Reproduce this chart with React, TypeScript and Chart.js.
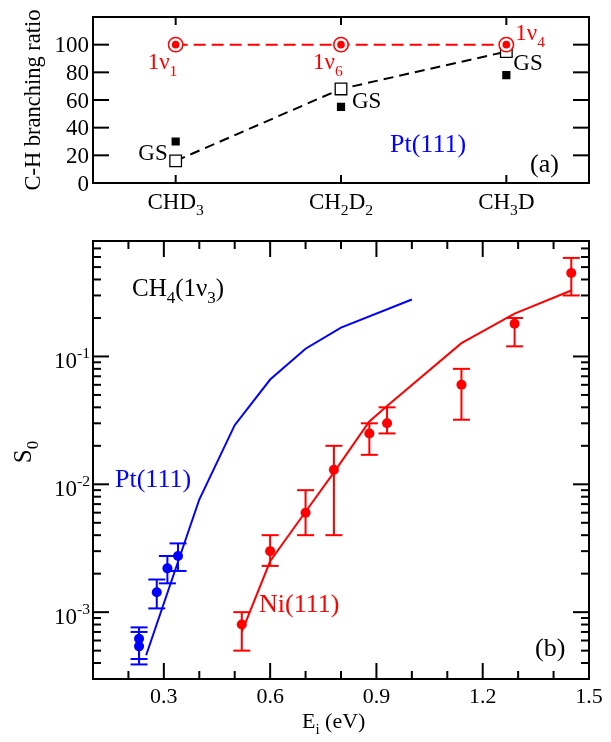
import React, { useEffect, useRef } from 'react';
import { Chart, registerables } from 'chart.js';

Chart.register(...registerables);

// ---------- Panel (a) data ----------
const topCategories = ['CHD_3', 'CH_2D_2', 'CH_3D'];
const vibExcited = [100, 100, 100];
const vibLabels = ['1ν_1', '1ν_6', '1ν_4'];
const gsTheory = [16, 68, 95];
const gsExperiment = [30, 55, 78];
const topYTicks = [0, 20, 40, 60, 80, 100, 120];

// ---------- Panel (b) data ----------
const ptExpE = [0.23, 0.23, 0.28, 0.31, 0.34];
const ptExpS = [6.2e-4, 5.4e-4, 1.43e-3, 2.2e-3, 2.75e-3];
const ptExpHi = [7.6e-4, 7.0e-4, 1.8e-3, 2.75e-3, 3.45e-3];
const ptExpLo = [4.3e-4, 3.9e-4, 1.07e-3, 1.68e-3, 2.1e-3];
const ptTheoryE = [0.25, 0.4, 0.5, 0.6, 0.7, 0.8, 1.0];
const ptTheoryS = [4.6e-4, 7.6e-3, 0.029, 0.066, 0.115, 0.168, 0.279];

const niExpE = [0.52, 0.6, 0.7, 0.78, 0.88, 0.93, 1.14, 1.29, 1.45];
const niExpS = [8.0e-4, 3.0e-3, 6.0e-3, 0.013, 0.025, 0.030, 0.060, 0.18, 0.45];
const niExpHi = [1.0e-3, 4.0e-3, 9.0e-3, 0.020, 0.030, 0.040, 0.080, 0.20, 0.59];
const niExpLo = [5.0e-4, 2.3e-3, 4.0e-3, 4.0e-3, 0.017, 0.025, 0.032, 0.12, 0.30];
const niTheoryE = [0.52, 0.6, 0.7, 0.78, 0.88, 0.93, 1.14, 1.29, 1.45];
const niTheoryS = [7.0e-4, 2.5e-3, 6.1e-3, 0.0124, 0.031, 0.041, 0.127, 0.216, 0.328];

const bottomXMajor = [0.3, 0.6, 0.9, 1.2, 1.5];
const bottomXMinor = [0.1, 0.2, 0.4, 0.5, 0.7, 0.8, 1.0, 1.1, 1.3, 1.4];
const bottomYDecades = [-3, -2, -1];

const RED = '#ff0000';
const BLUE = '#0000ff';
const FONT = '"Liberation Serif", "Times New Roman", Times, serif';

type Seg = { t: string; mode: 'n' | 'sub' | 'sup' };
function parseRich(s: string): Seg[] {
  const out: Seg[] = [];
  const re = /([_^])\{([^}]*)\}|([_^])(.)|([^_^]+)/g;
  let m: RegExpExecArray | null;
  while ((m = re.exec(s))) {
    if (m[1]) out.push({ t: m[2], mode: m[1] === '_' ? 'sub' : 'sup' });
    else if (m[3]) out.push({ t: m[4], mode: m[3] === '_' ? 'sub' : 'sup' });
    else out.push({ t: m[5], mode: 'n' });
  }
  return out;
}

function drawRich(
  ctx: CanvasRenderingContext2D,
  s: string,
  x: number,
  y: number,
  size: number,
  color: string,
  align: 'left' | 'center' | 'right',
  rotate = false
) {
  const segs = parseRich(s);
  const small = size * 0.68;
  const font = (sz: number) => `${sz}px ${FONT}`;
  ctx.save();
  ctx.fillStyle = color;
  ctx.textBaseline = 'alphabetic';
  ctx.textAlign = 'left';
  let w = 0;
  const widths = segs.map((sg) => {
    ctx.font = font(sg.mode === 'n' ? size : small);
    const ww = ctx.measureText(sg.t).width;
    w += ww;
    return ww;
  });
  ctx.translate(x, y);
  if (rotate) ctx.rotate(-Math.PI / 2);
  let cx = align === 'left' ? 0 : align === 'center' ? -w / 2 : -w;
  const base = size * 0.33;
  segs.forEach((sg, i) => {
    ctx.font = font(sg.mode === 'n' ? size : small);
    const dy = sg.mode === 'sub' ? size * 0.28 : sg.mode === 'sup' ? -size * 0.42 : 0;
    ctx.fillText(sg.t, cx, base + dy);
    cx += widths[i];
  });
  ctx.restore();
}

function line(ctx: CanvasRenderingContext2D, x1: number, y1: number, x2: number, y2: number) {
  ctx.beginPath();
  ctx.moveTo(x1, y1);
  ctx.lineTo(x2, y2);
  ctx.stroke();
}

const topDecor = {
  id: 'topDecor',
  afterDatasetsDraw(chart: any) {
    const ctx: CanvasRenderingContext2D = chart.ctx;
    const { left, right, top, bottom } = chart.chartArea;
    const xs = chart.scales.x;
    const ys = chart.scales.y;
    ctx.save();
    ctx.strokeStyle = '#000';
    ctx.lineWidth = 2;
    ctx.strokeRect(left, top, right - left, bottom - top);
    topYTicks.forEach((v) => {
      const py = ys.getPixelForValue(v);
      line(ctx, left, py, left + 16, py);
      line(ctx, right - 16, py, right, py);
      if (v < 120) drawRich(ctx, String(v), left - 4, py, 23, '#000', 'right');
    });
    topCategories.forEach((c, i) => {
      const px = xs.getPixelForValue(i);
      line(ctx, px, bottom, px, bottom - 8);
      line(ctx, px, top, px, top + 8);
      drawRich(ctx, c, px, bottom + 18, 23, '#000', 'center');
    });
    drawRich(ctx, 'C-H branching ratio', 33, (top + bottom) / 2, 22.5, '#000', 'center', true);

    // annotations placed relative to the data points
    const p = (i: number, v: number) => [xs.getPixelForValue(i), ys.getPixelForValue(v)];
    let [x0, y0] = p(0, vibExcited[0]);
    drawRich(ctx, vibLabels[0], x0 - 28, y0 + 17, 23, RED, 'left');
    [x0, y0] = p(1, vibExcited[1]);
    drawRich(ctx, vibLabels[1], x0 - 28, y0 + 17, 23, RED, 'left');
    [x0, y0] = p(2, vibExcited[2]);
    drawRich(ctx, vibLabels[2], x0 + 9, y0 - 12, 23, RED, 'left');
    [x0, y0] = p(0, gsTheory[0]);
    drawRich(ctx, 'GS', x0 - 8, y0 - 8, 23, '#000', 'right');
    [x0, y0] = p(1, gsTheory[1]);
    drawRich(ctx, 'GS', x0 + 11, y0 + 11, 23, '#000', 'left');
    [x0, y0] = p(2, gsTheory[2]);
    drawRich(ctx, 'GS', x0 + 7, y0 + 11, 23, '#000', 'left');

    drawRich(ctx, 'Pt(111)', 390, 143, 26, BLUE, 'left');
    drawRich(ctx, '(a)', 530, 163, 26, '#000', 'left');
    ctx.restore();
  },
};

function errorBars(chart: any) {
  const ctx: CanvasRenderingContext2D = chart.ctx;
  const xs = chart.scales.x;
  const ys = chart.scales.y;
  const sets: [number[], number[], number[], string][] = [
    [ptExpE, ptExpLo, ptExpHi, BLUE],
    [niExpE, niExpLo, niExpHi, RED],
  ];
  ctx.save();
  ctx.lineWidth = 2;
  sets.forEach(([E, lo, hi, col]) => {
    ctx.strokeStyle = col;
    E.forEach((e, i) => {
      const px = xs.getPixelForValue(e);
      const p1 = ys.getPixelForValue(lo[i]);
      const p2 = ys.getPixelForValue(hi[i]);
      line(ctx, px, p1, px, p2);
      line(ctx, px - 8.5, p1, px + 8.5, p1);
      line(ctx, px - 8.5, p2, px + 8.5, p2);
    });
  });
  ctx.restore();
}

const bottomDecor = {
  id: 'bottomDecor',
  beforeDatasetsDraw(chart: any) {
    errorBars(chart);
  },
  afterDatasetsDraw(chart: any) {
    const ctx: CanvasRenderingContext2D = chart.ctx;
    const { left, right, top, bottom } = chart.chartArea;
    const xs = chart.scales.x;
    const ys = chart.scales.y;
    ctx.save();
    ctx.strokeStyle = '#000';
    ctx.lineWidth = 2;
    ctx.strokeRect(left, top, right - left, bottom - top);
    bottomXMajor.forEach((v) => {
      const px = xs.getPixelForValue(v);
      line(ctx, px, bottom, px, bottom - 16);
      line(ctx, px, top, px, top + 16);
      drawRich(ctx, v.toFixed(1), px, bottom + 17, 22, '#000', 'center');
    });
    bottomXMinor.forEach((v) => {
      const px = xs.getPixelForValue(v);
      line(ctx, px, bottom, px, bottom - 8);
      line(ctx, px, top, px, top + 8);
    });
    const ymin = ys.min;
    const ymax = ys.max;
    for (let d = -4; d <= 0; d++) {
      for (let k = 1; k <= 9; k++) {
        const v = k * Math.pow(10, d);
        if (v < ymin * 0.999 || v > ymax * 1.001) continue;
        const py = ys.getPixelForValue(v);
        const len = k === 1 ? 16 : 8;
        line(ctx, left, py, left + len, py);
        line(ctx, right - len, py, right, py);
      }
    }
    bottomYDecades.forEach((d) => {
      const py = ys.getPixelForValue(Math.pow(10, d));
      drawRich(ctx, `10^{${d}}`, left - 3, py + 4, 23, '#000', 'right');
    });
    drawRich(ctx, 'E_i (eV)', 302, bottom + 42, 22, '#000', 'left');
    drawRich(ctx, 'S_0', 23, 222, 25, '#000', 'center', true);

    drawRich(ctx, 'CH_4(1ν_3)', 132, 58, 25, '#000', 'left');
    drawRich(ctx, 'Pt(111)', 115, 248, 26, BLUE, 'left');
    drawRich(ctx, 'Ni(111)', 259, 373, 26, RED, 'left');
    drawRich(ctx, '(b)', 535, 417, 26, '#000', 'left');
    ctx.restore();
  },
};

export default function App() {
  const topRef = useRef<HTMLCanvasElement>(null);
  const botRef = useRef<HTMLCanvasElement>(null);

  useEffect(() => {
    document.body.style.margin = '0';
    const c1 = new Chart(topRef.current as HTMLCanvasElement, {
      type: 'line',
      data: {
        labels: topCategories,
        datasets: [
          {
            label: 'excited dot',
            data: vibExcited,
            showLine: false,
            pointStyle: 'circle',
            pointRadius: 3.8,
            pointBackgroundColor: RED,
            pointBorderWidth: 0,
            order: 0,
          },
          {
            label: 'excited ring',
            data: vibExcited,
            showLine: false,
            pointStyle: 'circle',
            pointRadius: 7.2,
            pointBackgroundColor: '#ffffff',
            pointBorderColor: RED,
            pointBorderWidth: 1.5,
            order: 1,
          },
          {
            label: 'excited line',
            data: vibExcited,
            borderColor: RED,
            borderWidth: 2,
            borderDash: [12, 6],
            pointRadius: 0,
            order: 2,
          },
          {
            label: 'GS experiment',
            data: gsExperiment,
            showLine: false,
            pointStyle: 'rect',
            pointRadius: 5.8,
            pointBackgroundColor: '#000',
            pointBorderWidth: 0,
            order: 3,
          },
          {
            label: 'GS theory',
            data: gsTheory,
            borderColor: '#000',
            borderWidth: 2,
            borderDash: [10, 6],
            pointStyle: 'rect',
            pointRadius: 8.2,
            pointBackgroundColor: '#ffffff',
            pointBorderColor: '#000',
            pointBorderWidth: 1.3,
            order: 4,
          },
        ],
      },
      options: {
        animation: false,
        responsive: false,
        devicePixelRatio: 1,
        layout: { padding: { left: 93, right: 22, top: 17, bottom: 47 } },
        plugins: { legend: { display: false }, tooltip: { enabled: false } },
        scales: {
          x: { type: 'category', offset: true, display: false },
          y: { type: 'linear', min: 0, max: 120, display: false },
        },
      },
      plugins: [topDecor],
    });

    const pts = (E: number[], S: number[]) => E.map((e, i) => ({ x: e, y: S[i] }));
    const c2 = new Chart(botRef.current as HTMLCanvasElement, {
      type: 'scatter',
      data: {
        datasets: [
          {
            label: 'Pt(111) exp',
            data: pts(ptExpE, ptExpS),
            pointRadius: 5,
            pointBackgroundColor: BLUE,
            pointBorderWidth: 0,
            showLine: false,
            order: 0,
          },
          {
            label: 'Ni(111) exp',
            data: pts(niExpE, niExpS),
            pointRadius: 5,
            pointBackgroundColor: RED,
            pointBorderWidth: 0,
            showLine: false,
            order: 1,
          },
          {
            label: 'Pt(111) theory',
            data: pts(ptTheoryE, ptTheoryS),
            showLine: true,
            borderColor: BLUE,
            borderWidth: 2,
            pointRadius: 0,
            order: 2,
          },
          {
            label: 'Ni(111) theory',
            data: pts(niTheoryE, niTheoryS),
            showLine: true,
            borderColor: RED,
            borderWidth: 2,
            pointRadius: 0,
            order: 3,
          },
        ],
      },
      options: {
        animation: false,
        responsive: false,
        devicePixelRatio: 1,
        layout: { padding: { left: 93, right: 22, top: 11, bottom: 63 } },
        plugins: { legend: { display: false }, tooltip: { enabled: false } },
        scales: {
          x: { type: 'linear', min: 0.1, max: 1.5, display: false },
          y: { type: 'logarithmic', min: 3e-4, max: 0.8, display: false },
        },
      },
      plugins: [bottomDecor],
    });

    return () => {
      c1.destroy();
      c2.destroy();
    };
  }, []);

  return (
    <div style={{ position: 'absolute', left: 0, top: 0, width: 611, height: 742, background: '#fff' }}>
      <canvas ref={topRef} width={611} height={230} style={{ position: 'absolute', left: 0, top: 0 }} />
      <canvas ref={botRef} width={611} height={512} style={{ position: 'absolute', left: 0, top: 230 }} />
    </div>
  );
}
